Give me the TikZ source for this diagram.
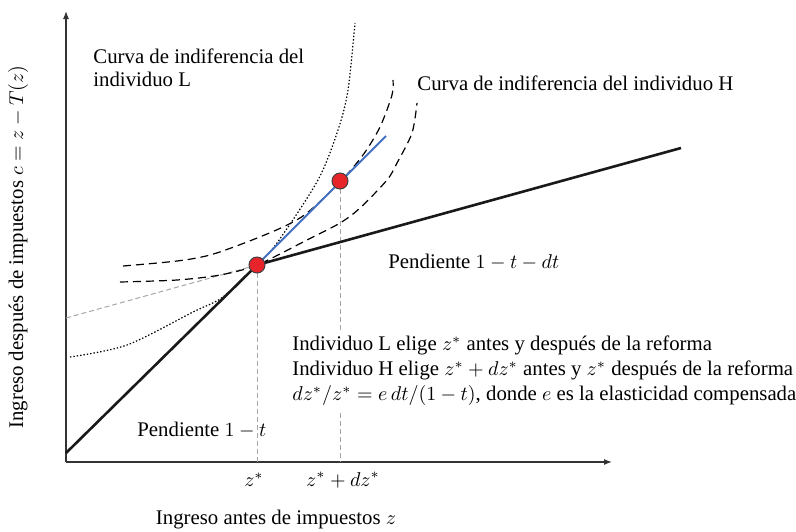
\documentclass[tikz,border=0pt]{standalone}
\usepackage{fontspec}
\setmainfont{Liberation Serif}
\usepackage{amsmath}
\usetikzlibrary{arrows.meta,calc}
\definecolor{dotred}{HTML}{E8242B}
\definecolor{lineblue}{HTML}{4472C4}
\definecolor{guidegray}{HTML}{A6A6A6}

\begin{document}
\begin{tikzpicture}[x=0.5pt, y=-0.5pt,
  every node/.style={font=\fontsize{10.4}{12.5}\selectfont},
  axis/.style={line width=0.6pt, draw=black!80, -{Latex[length=4pt,width=3pt]}},
  budget/.style={line width=1.3pt, draw=black!90},
  guide/.style={draw=guidegray, line width=0.5pt, dash pattern=on 2.5pt off 1.5pt},
  curveL/.style={line width=0.6pt, dash pattern=on 0.7pt off 1pt},
  curveH/.style={line width=0.6pt, dash pattern=on 4pt off 2.5pt},
  dot/.style={circle, fill=dotred, draw=black!75, line width=0.5pt, minimum size=8pt, inner sep=0pt},
  txt/.style={anchor=west, inner sep=0pt}]
\useasboundingbox (0,0) rectangle (796,531);

% axes
\coordinate (O) at (66,462);
\coordinate (xmax) at (612,462);
\coordinate (ymax) at (66,11);
\draw[axis] (O) -- (xmax);
\draw[axis] (O) -- (ymax);

% budget line and its kink
\coordinate (lo) at (66,453);
\coordinate (k) at (257,265);
\coordinate (hi) at (681,148);
\coordinate (h) at (340,181);
\coordinate (b) at (386,136);
\coordinate (ext) at (66,318);

% thin gray guides
\draw[guide] (ext) -- (k);
\draw[guide] (k) -- (k |- O);
\draw[guide] (h) -- (h |- O);

% indifference curve of L (dotted)
\draw[curveL] plot[smooth] coordinates {(70,357) (127,345) (193,312) (223,297) (257,265) (277,243) (318,180) (338,130) (348,90) (355,23)};
% indifference curves of H (dashed)
\draw[curveH] plot[smooth] coordinates {(123,266) (177,261) (210,255) (247,242) (283,227) (307,213) (340,182) (363,155) (380,127) (392,95) (393,80)};
\draw[curveH] plot[smooth] coordinates {(120,282) (177,280) (220,275) (257,265) (307,240) (340,223) (360,208) (387,180) (397,163) (412,133) (417,103)};

\draw[budget] (lo) -- (k) -- (hi);
\draw[lineblue, line width=1pt] (k) -- (b);

% texts
\node[txt, align=left, font=\fontsize{10.4}{11.5}\selectfont] (labL) at (93,68) {Curva de indiferencia del\\individuo L};
\node[txt] (labH) at (417,83) {Curva de indiferencia del individuo H};
\node[txt] (slopeH) at (388,262) {Pendiente $1-t-dt$};
\node[txt] (slopeL) at (137,430) {Pendiente $1-t$};
\node[txt, align=left, fill=white, inner sep=2pt] (note) at (288,371) {Individuo L elige $z^*$ antes y después de la reforma\\
Individuo H elige $z^*+dz^*$ antes y $z^*$ después de la reforma\\
$dz^*/z^*=e\,dt/(1-t)$, donde $e$ es la elasticidad compensada};
\node (zs) at (254,480) {$z^*$};
\node (zsd) at (343,480) {$z^*+dz^*$};
\node (xlab) at (276,520) {Ingreso antes de impuestos $z$};
\node[rotate=90] (ylab) at (18,247) {Ingreso después de impuestos $c=z-T(z)$};

% chosen points
\node[dot] (dotL) at (k) {};
\node[dot] (dotH) at (h) {};
\end{tikzpicture}
\end{document}
